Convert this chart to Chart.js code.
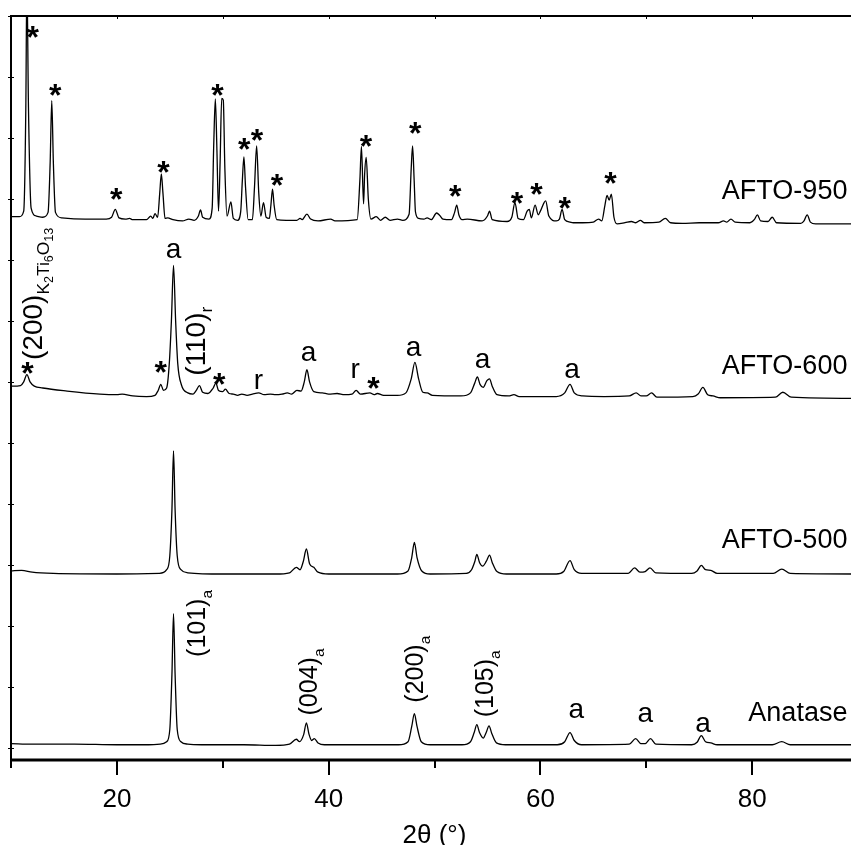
<!DOCTYPE html>
<html>
<head>
<meta charset="utf-8">
<script src="https://cdn.jsdelivr.net/npm/chart.js@4.4.1/dist/chart.umd.min.js"></script>
<style>
  html, body { margin: 0; padding: 0; background: #fff; overflow: hidden; }
  #wrap { width: 870px; height: 845px; }
</style>
</head>
<body>
<div id="wrap"><canvas id="xrd" width="870" height="845"></canvas></div>
<script>
// axis ranges and ticks (2theta in degrees, intensity in offset units)
const xMin = 10, xMax = 90;
const xMajorTicks = [20, 40, 60, 80];
const xMinorTicks = [10, 30, 50, 70, 90];
const xTopTicks = [20, 30, 40, 50, 60, 70, 80];
const yMin = -0.2, yMax = 12;
const yTicks = [0, 1, 2, 3, 4, 5, 6, 7, 8, 9, 10, 11, 12];

const sampleNames = ['Anatase', 'AFTO-500', 'AFTO-600', 'AFTO-950'];

// [2theta, intensity] pairs (each trace already offset)
const anatase = [
  [10, 0.07], [12, 0.06], [16, 0.06], [20, 0.05], [23, 0.05], [24.1, 0.06], [24.7, 0.10], [25.0, 0.30],
  [25.2, 1.20], [25.35, 2.20], [25.5, 1.20], [25.7, 0.30], [26.05, 0.10], [26.7, 0.06], [28, 0.05],
  [32, 0.05], [35, 0.04], [36.3, 0.06], [36.95, 0.14], [37.25, 0.10], [37.65, 0.22], [37.9, 0.41],
  [38.15, 0.22], [38.4, 0.12], [38.65, 0.15], [39.0, 0.08], [39.6, 0.05], [44, 0.05], [46.6, 0.05],
  [47.5, 0.10], [47.85, 0.35], [48.1, 0.56], [48.35, 0.35], [48.75, 0.10], [49.6, 0.05], [52.6, 0.05],
  [53.4, 0.10], [53.75, 0.25], [54.0, 0.38], [54.25, 0.25], [54.6, 0.16], [54.9, 0.26], [55.15, 0.36],
  [55.4, 0.24], [55.85, 0.08], [56.7, 0.05], [61.6, 0.05], [62.3, 0.10], [62.8, 0.25], [63.2, 0.12],
  [63.9, 0.05], [68.4, 0.06], [69.0, 0.15], [69.5, 0.07], [69.9, 0.07], [70.4, 0.15], [70.9, 0.06],
  [74.3, 0.05], [74.8, 0.09], [75.2, 0.20], [75.6, 0.10], [76.1, 0.08], [76.7, 0.05], [81.9, 0.05],
  [82.8, 0.10], [83.6, 0.05], [90, 0.05]
];

const afto500 = [
  [10, 2.90], [11, 2.91], [12, 2.88], [14, 2.86], [20, 2.85], [24, 2.86], [24.7, 2.92], [25.0, 3.15],
  [25.2, 3.90], [25.35, 4.87], [25.5, 3.90], [25.7, 3.15], [26.05, 2.92], [26.7, 2.87], [30, 2.85],
  [35, 2.85], [36.3, 2.87], [36.95, 2.96], [37.3, 2.92], [37.6, 3.05], [37.9, 3.26], [38.2, 3.02],
  [38.6, 2.96], [39.0, 2.88], [40, 2.85], [46.5, 2.85], [47.5, 2.90], [47.85, 3.12], [48.1, 3.37],
  [48.35, 3.12], [48.8, 2.90], [49.6, 2.85], [53, 2.86], [53.5, 2.92], [53.8, 3.05], [54.0, 3.17],
  [54.25, 3.04], [54.55, 2.98], [54.9, 3.06], [55.2, 3.16], [55.45, 3.04], [55.9, 2.89], [56.8, 2.85],
  [61.5, 2.85], [62.2, 2.89], [62.8, 3.07], [63.2, 2.92], [63.9, 2.86], [68.3, 2.86], [68.9, 2.95],
  [69.4, 2.88], [69.9, 2.89], [70.35, 2.95], [70.9, 2.87], [74.3, 2.86], [74.8, 2.90], [75.2, 2.99],
  [75.6, 2.92], [76.1, 2.91], [76.7, 2.86], [82.0, 2.86], [82.8, 2.93], [83.6, 2.86], [90, 2.85]
];

const afto600 = [
  [10, 5.93], [10.9, 5.94], [11.2, 6.00], [11.5, 6.12], [11.8, 6.00], [12.2, 5.93], [13, 5.90],
  [15.3, 5.85], [18.4, 5.80], [20, 5.79], [20.5, 5.80], [21.5, 5.77], [22.8, 5.76], [23.6, 5.78],
  [23.9, 5.86], [24.15, 5.96], [24.4, 5.86], [24.7, 5.90], [24.95, 6.30], [25.15, 7.00], [25.35, 7.91],
  [25.55, 7.00], [25.75, 6.30], [26.1, 5.95], [26.7, 5.82], [27.2, 5.80], [27.5, 5.86], [27.8, 5.94],
  [28.1, 5.83], [28.6, 5.81], [29.1, 5.90], [29.35, 5.98], [29.6, 5.86], [30.0, 5.84], [30.25, 5.88],
  [30.6, 5.81], [31.0, 5.80], [31.4, 5.78], [31.8, 5.80], [32.3, 5.78], [32.8, 5.80], [33.4, 5.82],
  [33.9, 5.79], [34.5, 5.80], [35.0, 5.79], [35.6, 5.80], [36.1, 5.82], [36.5, 5.80], [37.0, 5.86],
  [37.4, 5.85], [37.7, 6.00], [37.95, 6.20], [38.2, 6.00], [38.6, 5.84], [39.4, 5.82], [40.0, 5.80],
  [40.8, 5.81], [41.5, 5.79], [42.2, 5.80], [42.6, 5.86], [43.0, 5.80], [43.9, 5.82], [44.3, 5.79],
  [44.6, 5.81], [45.2, 5.78], [46.5, 5.78], [47.3, 5.82], [47.8, 6.05], [48.15, 6.32], [48.5, 6.05],
  [48.9, 5.83], [49.3, 5.82], [49.8, 5.78], [52.5, 5.77], [53.4, 5.82], [53.8, 5.98], [54.05, 6.08],
  [54.3, 5.96], [54.6, 5.91], [54.95, 6.02], [55.2, 6.05], [55.45, 5.93], [55.9, 5.79], [57.0, 5.77],
  [57.5, 5.79], [58, 5.76], [61.5, 5.76], [62.3, 5.82], [62.8, 5.96], [63.2, 5.82], [64, 5.77],
  [66.0, 5.76], [68.4, 5.77], [69.05, 5.82], [69.5, 5.77], [70.0, 5.77], [70.5, 5.82], [71.0, 5.75],
  [74.4, 5.76], [74.9, 5.80], [75.35, 5.91], [75.8, 5.79], [76.3, 5.77], [77, 5.74], [82.2, 5.75],
  [82.9, 5.83], [83.7, 5.75], [90, 5.73]
];

const afto950 = [
  [10, 8.71], [10.8, 8.71], [11.2, 8.80], [11.4, 10.5], [11.5, 12.6], [11.65, 10.5], [11.9, 8.85],
  [12.4, 8.72], [13.0, 8.70], [13.5, 8.78], [13.7, 9.60], [13.85, 10.61], [14.0, 9.60], [14.2, 8.78],
  [14.8, 8.69], [17, 8.67], [19.0, 8.67], [19.5, 8.70], [19.85, 8.83], [20.2, 8.69], [20.8, 8.67],
  [21.2, 8.68], [21.5, 8.66], [22.8, 8.66], [23.2, 8.72], [23.4, 8.68], [23.6, 8.76], [23.85, 8.70],
  [24.05, 9.10], [24.2, 9.41], [24.35, 9.10], [24.55, 8.68], [24.8, 8.69], [25.3, 8.66], [26.2, 8.64],
  [26.8, 8.67], [27.3, 8.65], [27.7, 8.72], [27.9, 8.82], [28.1, 8.70], [28.7, 8.67], [29.0, 8.85],
  [29.15, 9.90], [29.3, 10.64], [29.45, 9.80], [29.6, 8.80], [29.75, 9.60], [29.9, 10.65], [30.05, 10.62],
  [30.2, 9.50], [30.4, 8.72], [30.77, 8.95], [31.0, 8.68], [31.4, 8.65], [31.7, 8.80], [31.85, 9.30],
  [32.0, 9.69], [32.15, 9.20], [32.4, 8.66], [32.8, 8.66], [33.0, 9.20], [33.2, 9.87], [33.4, 9.10],
  [33.6, 8.72], [33.85, 8.94], [34.1, 8.70], [34.4, 8.68], [34.55, 8.90], [34.7, 9.16], [34.85, 8.90],
  [35.1, 8.66], [36.0, 8.65], [37.0, 8.65], [37.3, 8.68], [37.5, 8.66], [37.95, 8.75], [38.3, 8.67],
  [39.0, 8.64], [40.2, 8.67], [40.6, 8.64], [42.7, 8.66], [42.95, 9.30], [43.1, 9.86], [43.3, 8.92],
  [43.4, 9.40], [43.55, 9.68], [43.75, 9.00], [44.0, 8.67], [44.5, 8.71], [44.9, 8.65], [45.35, 8.70],
  [45.8, 8.65], [46.5, 8.67], [47.0, 8.65], [47.6, 8.75], [47.8, 9.50], [47.93, 9.87], [48.08, 9.30],
  [48.2, 8.79], [48.5, 8.68], [49.0, 8.67], [49.3, 8.69], [49.7, 8.66], [50.2, 8.77], [50.5, 8.73],
  [50.8, 8.67], [51.6, 8.66], [51.9, 8.78], [52.1, 8.90], [52.3, 8.74], [52.6, 8.66], [53.1, 8.67],
  [54.5, 8.64], [55.0, 8.72], [55.2, 8.80], [55.45, 8.66], [56.85, 8.63], [57.3, 8.70], [57.6, 8.94],
  [57.9, 8.68], [58.4, 8.66], [58.75, 8.80], [58.95, 8.83], [59.15, 8.69], [59.5, 8.90], [59.8, 8.74],
  [60.0, 8.80], [60.5, 8.97], [60.8, 8.72], [61.5, 8.64], [61.8, 8.67], [62.05, 8.83], [62.3, 8.66],
  [62.8, 8.62], [63.1, 8.61], [64, 8.61], [65.0, 8.62], [65.5, 8.67], [65.8, 8.64], [66.1, 8.90],
  [66.3, 9.06], [66.5, 8.98], [66.7, 9.08], [66.95, 8.70], [67.25, 8.59], [68.0, 8.61], [68.6, 8.63],
  [69.0, 8.61], [69.45, 8.65], [69.8, 8.61], [71.2, 8.62], [71.8, 8.68], [72.3, 8.61], [73.4, 8.60],
  [75, 8.61], [76.8, 8.61], [77.3, 8.64], [77.6, 8.62], [78.0, 8.67], [78.4, 8.62], [79.8, 8.61],
  [80.2, 8.66], [80.5, 8.74], [80.8, 8.64], [81.5, 8.63], [81.9, 8.70], [82.3, 8.61], [84.6, 8.60],
  [84.9, 8.64], [85.2, 8.74], [85.5, 8.62], [86.0, 8.59], [90, 8.59]
];

const patterns = [anatase, afto500, afto600, afto950];

// text placed on the plot, in data coordinates
const sampleLabels = [
  { text: 'AFTO-950', x: 89.0, y: 9.16 },
  { text: 'AFTO-600', x: 89.0, y: 6.29 },
  { text: 'AFTO-500', x: 89.0, y: 3.44 },
  { text: 'Anatase', x: 89.0, y: 0.60 }
];

const peakMarks = [
  // K2Ti6O13 reflections
  ['*', 12.06, 11.77], ['*', 14.17, 10.83], ['*', 19.93, 9.12], ['*', 24.40, 9.56], ['*', 29.50, 10.83],
  ['*', 32.03, 9.94], ['*', 33.23, 10.09], ['*', 35.12, 9.35], ['*', 43.53, 9.98], ['*', 48.18, 10.20],
  ['*', 51.96, 9.17], ['*', 57.79, 9.05], ['*', 59.62, 9.20], ['*', 62.29, 8.97], ['*', 66.61, 9.38],
  ['*', 11.55, 6.27], ['*', 24.15, 6.28], ['*', 29.66, 6.08], ['*', 44.24, 6.02],
  // anatase / rutile
  ['a', 25.35, 8.16], ['a', 38.10, 6.46], ['a', 48.02, 6.55], ['a', 54.54, 6.35], ['a', 62.99, 6.19],
  ['r', 33.38, 6.00], ['r', 42.51, 6.19],
  ['a', 63.40, 0.61], ['a', 69.92, 0.55], ['a', 75.37, 0.39]
];

// rotated hkl labels: [text, level] parts; level 1 = subscript, 2 = sub-subscript
const hklLabels = [
  { parts: [['(200)', 0], ['K', 1], ['2', 2], ['Ti', 1], ['6', 2], ['O', 1], ['13', 2]], x: 12.09, y: 6.36, size: 28 },
  { parts: [['(110)', 0], ['r', 1]], x: 27.49, y: 6.10, size: 28 },
  { parts: [['(101)', 0], ['a', 1]], x: 27.62, y: 1.49, size: 25 },
  { parts: [['(004)', 0], ['a', 1]], x: 38.17, y: 0.53, size: 25 },
  { parts: [['(200)', 0], ['a', 1]], x: 48.25, y: 0.74, size: 25 },
  { parts: [['(105)', 0], ['a', 1]], x: 54.80, y: 0.50, size: 25 }
];

const FONT = 'Arial, "Liberation Sans", sans-serif';

const xrdFrame = {
  id: 'xrdFrame',
  afterDraw(chart) {
    const { ctx, chartArea: area, scales: { x, y } } = chart;
    ctx.save();
    ctx.strokeStyle = '#000';
    ctx.fillStyle = '#000';

    // frame
    ctx.lineWidth = 2;
    ctx.beginPath();
    ctx.moveTo(area.left, area.top);
    ctx.lineTo(area.right, area.top);
    ctx.moveTo(area.left, area.top - 1);
    ctx.lineTo(area.left, area.bottom + 8);
    ctx.stroke();
    ctx.lineWidth = 3;
    ctx.beginPath();
    ctx.moveTo(area.left - 1, area.bottom);
    ctx.lineTo(area.right, area.bottom);
    ctx.stroke();

    // x ticks
    ctx.lineWidth = 2;
    ctx.beginPath();
    xMajorTicks.forEach(v => {
      const px = Math.round(x.getPixelForValue(v));
      ctx.moveTo(px, area.bottom);
      ctx.lineTo(px, area.bottom + 15);
    });
    xMinorTicks.forEach(v => {
      const px = Math.round(x.getPixelForValue(v));
      ctx.moveTo(px, area.bottom);
      ctx.lineTo(px, area.bottom + 8);
    });
    ctx.stroke();
    ctx.lineWidth = 1;
    ctx.beginPath();
    xTopTicks.forEach(v => {
      const px = Math.round(x.getPixelForValue(v)) + 0.5;
      ctx.moveTo(px, area.top);
      ctx.lineTo(px, area.top + 3);
    });
    yTicks.forEach(v => {
      const py = Math.round(y.getPixelForValue(v)) + 0.5;
      ctx.moveTo(area.left - 3, py);
      ctx.lineTo(area.left + 3, py);
    });
    ctx.stroke();

    // x tick labels and title
    ctx.font = '26px ' + FONT;
    ctx.textAlign = 'center';
    ctx.textBaseline = 'alphabetic';
    xMajorTicks.forEach(v => {
      ctx.fillText(String(v), x.getPixelForValue(v), area.bottom + 47);
    });
    ctx.fillText('2\u03B8 (\u00B0)', (area.left + area.right) / 2, area.bottom + 83);

    // sample names
    ctx.font = '27px ' + FONT;
    ctx.textAlign = 'right';
    sampleLabels.forEach(l => {
      ctx.fillText(l.text, x.getPixelForValue(l.x), y.getPixelForValue(l.y) + 10);
    });

    // phase marks
    ctx.textAlign = 'center';
    peakMarks.forEach(([t, vx, vy]) => {
      const fs = t === '*' ? 32 : 28;
      ctx.font = (t === '*' ? 'bold ' : '') + fs + 'px ' + FONT;
      const k = t === '*' ? 0.57 : 0.27;
      ctx.fillText(t, x.getPixelForValue(vx), y.getPixelForValue(vy) + k * fs);
    });

    // rotated hkl labels
    ctx.textAlign = 'left';
    hklLabels.forEach(l => {
      const fs = l.size;
      ctx.save();
      ctx.translate(x.getPixelForValue(l.x) + 0.3 * fs, y.getPixelForValue(l.y));
      ctx.rotate(-Math.PI / 2);
      let cur = 0;
      l.parts.forEach(([s, lvl]) => {
        const size = lvl === 0 ? fs : lvl === 1 ? fs * 0.62 : fs * 0.45;
        const dy = lvl === 0 ? 0 : lvl === 1 ? fs * 0.28 : fs * 0.42;
        ctx.font = size + 'px ' + FONT;
        ctx.fillText(s, cur, dy);
        cur += ctx.measureText(s).width;
      });
      ctx.restore();
    });

    ctx.restore();
  }
};

new Chart(document.getElementById('xrd'), {
  type: 'line',
  data: {
    datasets: patterns.map((p, i) => ({
      label: sampleNames[i],
      data: p,
      borderColor: '#000',
      borderWidth: 1.3,
      pointRadius: 0,
      fill: false,
      cubicInterpolationMode: 'monotone'
    }))
  },
  options: {
    responsive: false,
    animation: false,
    layout: { padding: { left: 11, top: 16, right: 12, bottom: 85 } },
    plugins: { legend: { display: false }, tooltip: { enabled: false } },
    scales: {
      x: { type: 'linear', min: xMin, max: xMax, display: false },
      y: { type: 'linear', min: yMin, max: yMax, display: false }
    }
  },
  plugins: [xrdFrame]
});
</script>
</body>
</html>
